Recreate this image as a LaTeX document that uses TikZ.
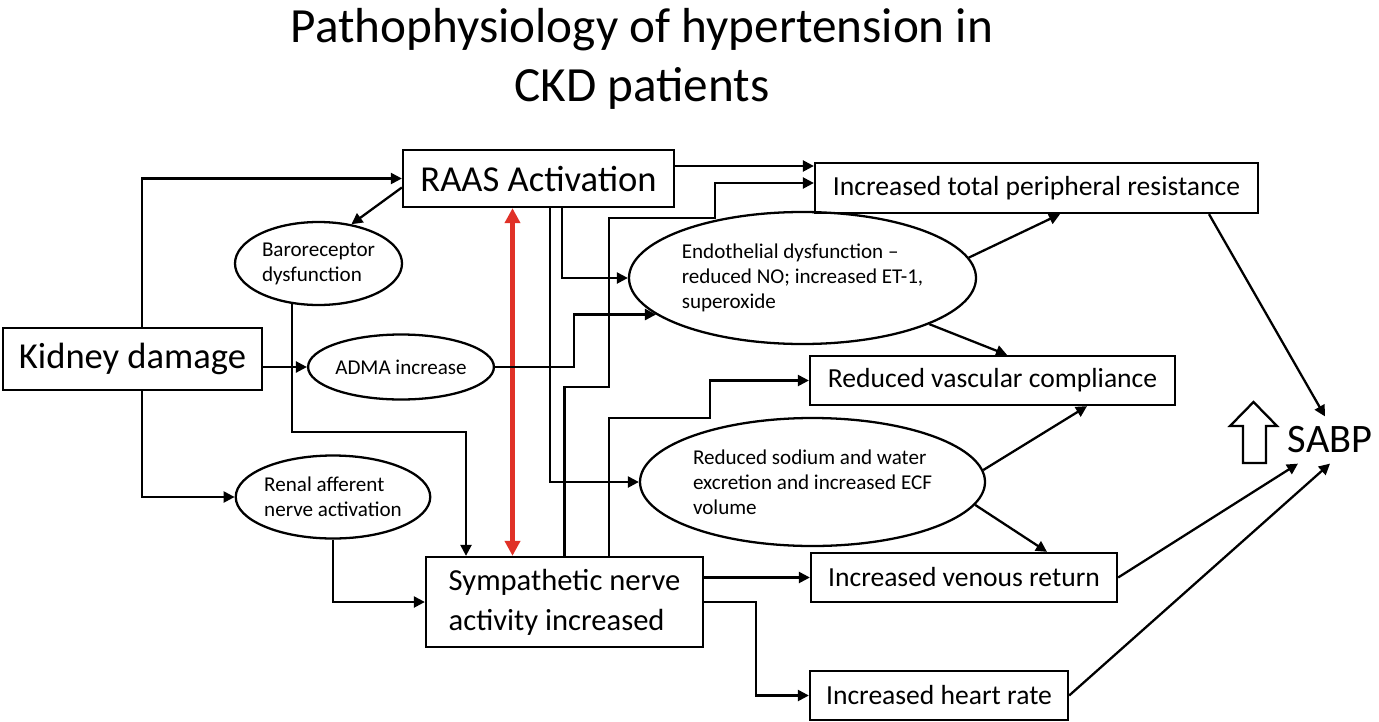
\documentclass[tikz,border=0pt]{standalone}
\usepackage{fontspec}
\setmainfont{Carlito}
\usetikzlibrary{arrows.meta, shapes.geometric}
\definecolor{alarmred}{HTML}{E03127}

\begin{document}
\begin{tikzpicture}[
  >={Triangle[length=2.2mm, width=2.2mm]},
  box/.style={draw, line width=1.3pt, inner sep=0pt},
  oval/.style={draw, ellipse, line width=1.3pt, inner sep=0pt, align=left,
    font=\fontsize{12}{14.2}\selectfont},
  flow/.style={->, line width=1.3pt},
  redflow/.style={<->, line width=2.4pt, alarmred,
    >={Triangle[length=3mm, width=3mm]}},
]

% Frame
\useasboundingbox (0,0) rectangle (27.58,14.42);

% Title
\node[align=center, font=\fontsize{28}{34}\selectfont] (title) at (12.84,13.24)
  {Pathophysiology of hypertension in\\CKD patients};

% =============================================
% Left column: causes
% =============================================

\node[box, minimum width=5.18cm, minimum height=1.24cm,
  font=\fontsize{20.8}{26}\selectfont] (kidney) at (2.65,7.24) {Kidney damage};

\node[box, minimum width=5.42cm, minimum height=1.14cm,
  font=\fontsize{20.8}{26}\selectfont] (raas) at (10.77,10.85) {RAAS Activation};

\node[oval, minimum width=3.34cm, minimum height=1.66cm] (baro) at (6.37,9.15)
  {Baroreceptor\\dysfunction};

\node[oval, minimum width=3.24cm, minimum height=1.3cm] (adma) at (8.02,7.08)
  {ADMA increase};

\node[oval, minimum width=3.5cm, minimum height=1.66cm] (renal) at (6.66,4.48)
  {Renal afferent\\nerve activation};

\node[box, minimum width=5.54cm, minimum height=1.8cm, align=left,
  font=\fontsize{17.4}{22.8}\selectfont] (symp) at (11.29,2.38)
  {Sympathetic nerve\\activity increased};

% =============================================
% Middle: mechanisms
% =============================================

\node[oval, minimum width=6.94cm, minimum height=2.64cm] (endo) at (16.05,8.86)
  {Endothelial dysfunction --\\reduced NO; increased ET-1,\\superoxide};

\node[oval, minimum width=6.9cm, minimum height=2.56cm] (sodium) at (16.25,4.78)
  {Reduced sodium and water\\excretion and increased ECF\\volume};

% =============================================
% Right: effects
% =============================================

\node[box, minimum width=8.86cm, minimum height=1cm,
  font=\fontsize{15.7}{19}\selectfont] (tpr) at (20.73,10.66)
  {Increased total peripheral resistance};

\node[box, minimum width=7.3cm, minimum height=0.98cm,
  font=\fontsize{15.7}{19}\selectfont] (comp) at (19.85,6.81)
  {Reduced vascular compliance};

\node[box, minimum width=6.12cm, minimum height=0.98cm,
  font=\fontsize{15.7}{19}\selectfont] (venous) at (19.28,2.87)
  {Increased venous return};

\node[box, minimum width=5.16cm, minimum height=0.98cm,
  font=\fontsize{15.7}{19}\selectfont] (heart) at (18.78,0.51)
  {Increased heart rate};

\node[inner sep=0.2cm, font=\fontsize{23}{27}\selectfont] (sabp) at (26.6,5.62)
  {SABP};

% Hollow up arrow
\draw[line width=1.3pt]
  (24.86,5.16) -- (24.86,5.9) -- (24.6,5.9) -- (25.07,6.38)
  -- (25.54,5.9) -- (25.32,5.9) -- (25.32,5.16) -- cycle;

% =============================================
% Connectors
% =============================================

% From kidney damage
\draw[flow] ([xshift=0.19cm]kidney.north) |- (raas.west);
\draw[flow] (kidney.east |- adma.west) -- (adma.west);
\draw[flow] ([xshift=0.19cm]kidney.south) |- (renal.west);

% From RAAS
\draw[flow] ([yshift=-0.18cm]raas.west) -- (baro.50);
\draw[flow] ([yshift=0.25cm]raas.east) -- ([yshift=0.25cm]raas.east -| tpr.west);
\draw[flow] ([xshift=0.47cm]raas.south) |- (endo.west);
\draw[flow] ([xshift=0.23cm]raas.south) |- (sodium.west);

% RAAS <-> sympathetic
\draw[redflow] (raas.south -| 10.25,0) -- (symp.north -| 10.25,0);

% Small ovals
\draw[flow] (baro.237) -- (baro.237 |- 0,5.78) -| ([xshift=-1.97cm]symp.north);
\draw[flow] (adma.east) -- (adma.east -| 11.48,0) |- (endo.194);
\draw[flow] (renal.south) |- (symp.west);

% From sympathetic
\draw[flow] (symp.north) |- (12.18,6.68) |- (14.3,10.06) |- ([yshift=0.1cm]tpr.west);
\draw[flow] ([xshift=0.89cm]symp.north) |- (14.2,6.06) |- (comp.west);
\draw[flow] (symp.east |- venous.west) -- (venous.west);
\draw[flow] (symp.east) -- (symp.east -| 15.12,0) |- (heart.west);

% Mechanisms to effects
\draw[flow] (endo.7) -- ([xshift=0.47cm]tpr.south);
\draw[flow] (endo.340) -- ([xshift=0.29cm]comp.north);
\draw[flow] (sodium.4) -- ([xshift=1.89cm]comp.south);
\draw[flow] (sodium.352) -- ([xshift=1.66cm]venous.north);

% Effects to SABP
\draw[flow] ([xshift=3.45cm]tpr.south) -- ([xshift=-0.1cm]sabp.north);
\draw[flow] (venous.east) -- ([xshift=-0.64cm]sabp.south);
\draw[flow] (heart.east) -- (sabp.south);

\end{tikzpicture}
\end{document}
